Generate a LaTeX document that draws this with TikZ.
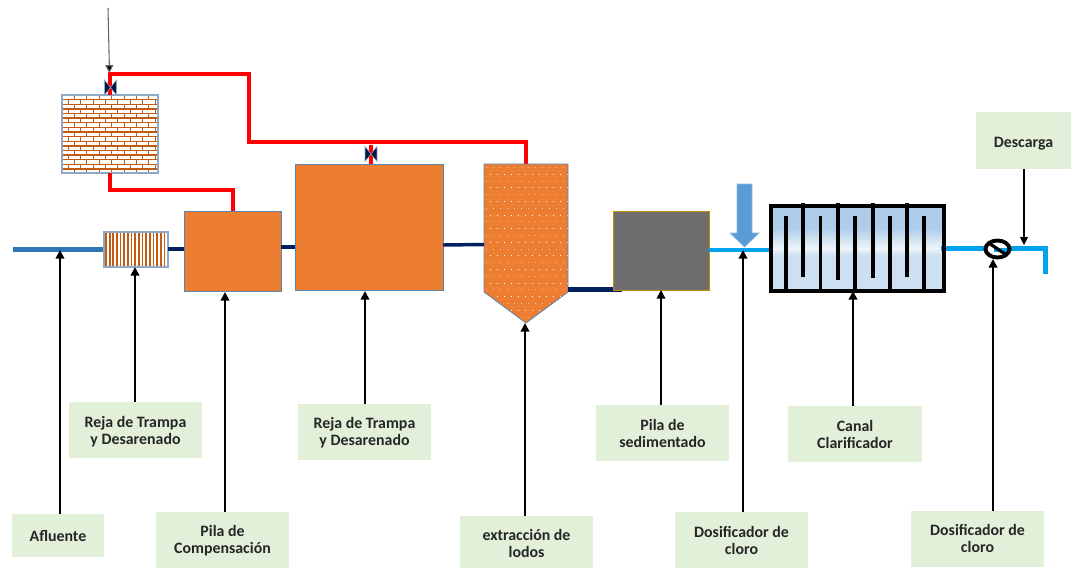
\documentclass[tikz,border=0pt]{standalone}
\usepackage{fontspec}
\setmainfont{Carlito}
\usetikzlibrary{arrows.meta,calc}
\definecolor{frameblue}{HTML}{5B84AE}
\definecolor{paleframe}{HTML}{8FAAC8}
\definecolor{tankorange}{HTML}{ED7D31}
\definecolor{brick}{HTML}{C55A11}
\definecolor{pipeblue}{HTML}{2E75B6}
\definecolor{pipenavy}{HTML}{002060}
\definecolor{pipecyan}{HTML}{00A2EE}
\definecolor{labelgreen}{HTML}{E2EFD9}
\definecolor{greybox}{HTML}{6E6E6E}
\definecolor{goldedge}{HTML}{C09000}
\definecolor{dosearrow}{HTML}{5B9BD5}
\definecolor{canaldark}{HTML}{AECDE9}
\definecolor{canallow}{HTML}{CDE0F2}
\definecolor{canalmid}{HTML}{EEF4FA}
\pgfdeclareverticalshading{canalshade}{100bp}{color(0bp)=(canallow); color(46bp)=(canallow); color(50bp)=(canalmid); color(62bp)=(canaldark); color(100bp)=(canaldark)}
\newcommand{\tagtext}[2]{\raisebox{-#1pt}[\height][\depth]{\begin{tabular}{@{}c@{}}#2\end{tabular}}}
\tikzset{
 x=0.75pt,y=-0.75pt,
 tag/.style={fill=labelgreen,inner sep=0pt,outer sep=0pt,minimum width=100pt,minimum height=42pt,font=\fontsize{11.9pt}{12.8pt}\selectfont\bfseries,text=black!85},
 tank/.style={draw=frameblue,line width=0.55pt,inner sep=0pt,outer sep=0pt,anchor=north west},
 redpipe/.style={draw=red,line width=3pt,line join=miter},
 navypipe/.style={draw=pipenavy,line width=2.6pt},
 cyanpipe/.style={draw=pipecyan,line width=3.7pt},
 callout/.style={draw=black,line width=1.3pt,-{Triangle[length=6.5pt,width=6.5pt]}},
 thincall/.style={draw=black,line width=0.8pt,-{Triangle[length=6pt,width=6pt]}},
 bafflestyle/.style={draw=black,line width=2.7pt},
}
\begin{document}
\begin{tikzpicture}
\useasboundingbox (0,0) rectangle (1071,568);
\coordinate (inL) at (13,249.5);
\coordinate (tip) at (108,8);
\coordinate (tipE) at (109.5,73);
\coordinate (bend1) at (249,74);
\coordinate (bend2) at (249,142);
\coordinate (bend3) at (526,142);
\coordinate (outR) at (1045.5,248.5);
\coordinate (outD) at (1045.5,274);
% blue inflow
\draw[draw=pipeblue,line width=3.6pt] (inL) -- (104,249.5);
% tanks
\node[tank,fill=white,draw=none,minimum width=48pt,minimum height=26.25pt] (screen) at (104,232) {};
\begin{scope}
\clip (104,232) rectangle (168,267);
\foreach \i in {0,...,17}{\draw[brick,line width=1.3pt] ({106+\i*3.65},232) -- ++(0,35);}
\end{scope}
\draw[paleframe,line width=0.9pt] (screen.north west) rectangle (screen.south east);
\node[tank,fill=tankorange,minimum width=72.75pt,minimum height=60pt] (comp) at (184,211) {};
\node[tank,fill=tankorange,minimum width=111pt,minimum height=95pt] (big) at (295,164) {};
\node[tank,fill=white,draw=none,minimum width=72pt,minimum height=58.5pt] (brickbox) at (62,95) {};
\draw[navypipe] (168,249) -- (184,249);
\draw[navypipe] (281,247) -- (295,247);
% brick pattern
\begin{scope}
\clip (62,95) rectangle (158,173);
\foreach \r in {0,...,16}{
  \pgfmathsetmacro{\yy}{95+\r*4.62}
  \draw[brick,line width=1.05pt] (62,\yy) -- (158,\yy);
  \pgfmathsetmacro{\off}{mod(\r,2)*6.2}
  \foreach \c in {-1,...,8}{
    \draw[brick,line width=0.75pt] ({62+\off+\c*12.4},\yy) -- ++(0,4.62);
  }
}
\end{scope}
\draw[paleframe,line width=0.9pt] (brickbox.north west) rectangle (brickbox.south east);
% red pipes
\draw[redpipe] (109.5,173) -- (109.5,190) -- (233,190) -- (233,211);
\draw[redpipe] (109.5,95) -- (109.5,74) -- (bend1) -- (bend2) -- (bend3) -- (526,164);
\draw[red,line width=2.6pt] (371,145) -- (371,164);
% hopper
\coordinate (hA) at (484,164);
\coordinate (hB) at (568,164);
\coordinate (hC) at (568,292);
\coordinate (hTip) at (526,323);
\coordinate (hD) at (484,292);
\fill[tankorange] (hA) -- (hB) -- (hC) -- (hTip) -- (hD) -- cycle;
\begin{scope}
\clip (hA) -- (hB) -- (hC) -- (hTip) -- (hD) -- cycle;
\foreach \r in {0,...,23}{
  \pgfmathsetmacro{\yy}{167+\r*6.8}
  \pgfmathsetmacro{\off}{mod(\r,2)*3.5}
  \pgfmathsetmacro{\shadeamt}{mod(\r,2)*45+50}
  \foreach \c in {0,...,12}{
    \fill[white!\shadeamt!tankorange] ({486+\off+\c*7},\yy) rectangle ++(1,1);
  }
}
\end{scope}
\draw[frameblue,line width=0.6pt] (hA) -- (hB) -- (hC) -- (hTip) -- (hD) -- cycle;
\draw[navypipe] (443,245) -- (484,244.5);
\draw[draw=pipenavy,line width=3.6pt] (568,289.5) -- (622,289.5);
\node[tank,fill=greybox,draw=goldedge,minimum width=72pt,minimum height=59.5pt] (sed) at (613,211) {};
% canal
\shade[shading=canalshade] (771,206) rectangle (944,291);
\draw[cyanpipe] (709,250) -- (771,250);
\draw[cyanpipe,line join=miter] (941,248.5) -- (outR) -- (outD);
\foreach \x in {786,820.5,855,890,924}{\draw[bafflestyle] (\x,216) -- (\x,291);}
\foreach \x/\b in {803/277,838/280,873/278,907/277}{\draw[bafflestyle] (\x,203) -- (\x,\b);}
\draw[black,line width=2.3pt] (771,206) rectangle (944,291);
% dosing arrow
\path[fill=dosearrow,draw=dosearrow!70!white,line width=0.5pt] (737,184) -- (752,184) -- (752,233) -- (759,233) -- (744.5,247) -- (730,233) -- (737,233) -- cycle;
% valves
\foreach \x/\y in {110.5/87.5,371/154}{
  \path[fill=pipenavy!70!black,draw=paleframe,line width=0.4pt] (\x-6,\y-7.5) -- (\x+6,\y+7.5) -- (\x+6,\y-7.5) -- (\x-6,\y+7.5) -- cycle;
}
% chlorine disc
\fill[white] (997.5,249) ellipse (12 and 8.5);
\begin{scope}
\clip (997.5,249) ellipse (12 and 8.5);
\draw[cyanpipe] (994,250) -- (1011,250);
\end{scope}
\draw[black,line width=2.9pt] (997.5,249) ellipse (12 and 8.5);
\draw[black,line width=2.4pt] (989.5,243.5) -- (1005,254);
% labels
\node[tag] (l1) at (135.5,430) {\tagtext{2.2}{Reja de Trampa\\y Desarenado}};
\node[tag] (l2) at (364.5,432) {\tagtext{1.5}{Reja de Trampa\\y Desarenado}};
\node[tag,minimum width=69pt,minimum height=32pt] (l3) at (58,535.5) {\tagtext{2.2}{Afluente}};
\node[tag] (l4) at (222.5,540) {\tagtext{1.5}{Pila de\\Compensación}};
\node[tag,minimum height=39pt] (l5) at (526.5,542) {\tagtext{3}{extracción de\\lodos}};
\node[tag] (l6) at (662.5,433) {\tagtext{2.2}{Pila de\\sedimentado}};
\node[tag] (l7) at (855,434) {\tagtext{2.2}{Canal\\Clarificador}};
\node[tag] (l8) at (741.5,540) {\tagtext{2.2}{Dosificador de\\cloro}};
\node[tag] (l9) at (977.5,539) {\tagtext{1.5}{Dosificador de\\cloro}};
\node[tag,minimum width=71pt,minimum height=42.5pt] (l10) at (1023.5,140.5) {\tagtext{2.5}{Descarga}};
% anchors for callout tips
\coordinate (t3) at (60,250);
\coordinate (t1) at (135,267);
\coordinate (t4) at (225,292);
\coordinate (t2) at (365,291);
\coordinate (t5) at (525,323);
\coordinate (t6) at (661,290);
\coordinate (t8) at (743,250);
\coordinate (t7) at (853,291);
\coordinate (t9) at (993,259);
\coordinate (t10) at (1024,245);
% callouts
\draw[callout] (l3.north -| t3) -- (t3);
\draw[callout] (l1.north -| t1) -- (t1);
\draw[callout] (l4.north -| t4) -- (t4);
\draw[callout] (l2.north -| t2) -- (t2);
\draw[callout] (l5.north -| t5) -- (t5);
\draw[callout] (l6.north -| t6) -- (t6);
\draw[callout] (l8.north -| t8) -- (t8);
\draw[callout] (l7.north -| t7) -- (t7);
\draw[callout] (l9.north -| t9) -- (t9);
\draw[thincall] (l10.south -| t10) -- (t10);
\draw[draw=black!60,line width=0.8pt,-{Triangle[length=6pt,width=6pt,fill=black]}] (tip) -- (tipE);
\end{tikzpicture}
\end{document}
